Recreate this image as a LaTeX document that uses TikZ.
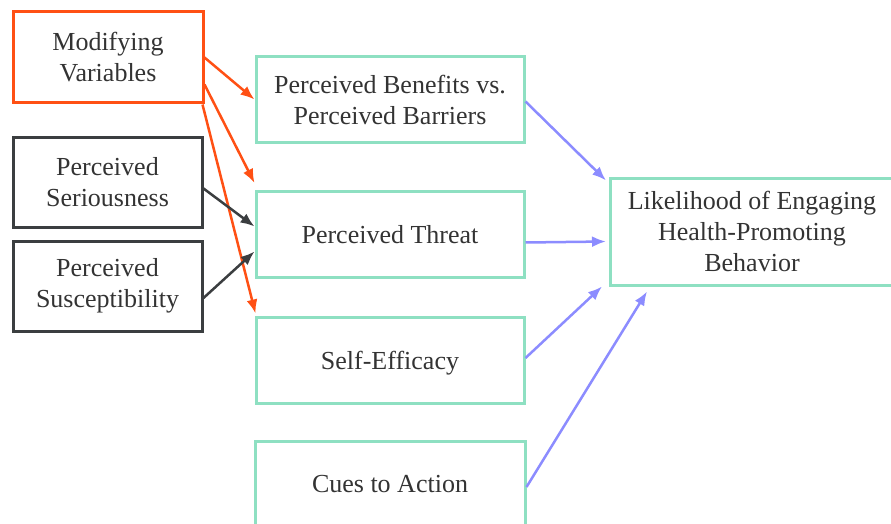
\documentclass[tikz,border=0pt]{standalone}
\usepackage{fontspec}
\setmainfont{Liberation Serif}
\usepackage{xcolor}
\usetikzlibrary{arrows.meta}
\usetikzlibrary{calc}
\usetikzlibrary{positioning}

\definecolor{modorange}{HTML}{FF5014}
\definecolor{mintline}{HTML}{8EE0C2}
\definecolor{darkline}{HTML}{3B3E40}
\definecolor{bluearrow}{HTML}{8C8CFF}
\definecolor{textgray}{HTML}{333333}

\tikzset{
    box/.style={draw, line width=3pt, align=center, text=textgray,
        font=\fontsize{26}{31}\selectfont, inner sep=0pt},
    modbox/.style={box, draw=modorange, minimum width=190pt, minimum height=91pt},
    perbox/.style={box, draw=darkline, minimum width=189pt, minimum height=90pt},
    hbmbox/.style={box, draw=mintline, minimum width=268pt, minimum height=86pt},
    modarrow/.style={draw=modorange, line width=2.5pt, -{Latex[length=14pt,width=11pt]}},
    perarrow/.style={draw=darkline, line width=2.5pt, -{Latex[length=14pt,width=11pt]}},
    outarrow/.style={draw=bluearrow, line width=2.5pt, -{Latex[length=14pt,width=11pt]}}
}

\begin{document}
\begin{tikzpicture}[x=1pt, y=-1pt]
        \useasboundingbox (0,0) rectangle (891,524);
        % Left column
        \node[modbox] (mod) at (108,57.5) {Modifying\\Variables};
        \node[perbox] (ser) at (107.5,182.5) {Perceived\\Seriousness};
        \node[perbox] (sus) at (107.5,286) {Perceived\\Susceptibility};
        % Middle column
        \node[hbmbox] (ben) at (390,99.5) {Perceived Benefits vs.\\Perceived Barriers};
        \node[hbmbox] (thr) at (390,234.5) {Perceived Threat};
        \node[hbmbox, text depth=-6pt] (eff) at (390,360) {Self-Efficacy};
        \node[hbmbox, minimum width=270pt] (cue) at (390,484) {Cues to Action};
        % Outcome
        \node[hbmbox, minimum width=283pt, minimum height=107pt] (lik) at (752,231.5)
            {Likelihood of Engaging\\Health-Promoting\\Behavior};
        % Modifying variables
        \draw[modarrow] (mod.east) -- (ben.west);
        \draw[modarrow] ([yshift=-27pt]mod.east) -- ([yshift=7pt]thr.north west);
        \draw[modarrow] ([xshift=-2pt]mod.south east) -- ([xshift=1pt,yshift=2pt]eff.north west);
        % Threat components
        \draw[perarrow] ([yshift=-6pt]ser.east) -- ([yshift=8pt]thr.west);
        \draw[perarrow] ([yshift=-12pt]sus.east) -- ([yshift=-17pt]thr.west);
        % Toward the behaviour
        \draw[outarrow] ([yshift=-2pt]ben.east) -- ([xshift=-3pt,yshift=-4pt]lik.north west);
        \draw[outarrow] ([yshift=-8pt]thr.east) -- ([xshift=-3pt,yshift=-10pt]lik.west);
        \draw[outarrow] ([yshift=2pt]eff.east) -- ([xshift=-7pt]lik.south west);
        \draw[outarrow] ([yshift=-3pt]cue.east) -- ([xshift=38pt,yshift=-5pt]lik.south west);
    \end{tikzpicture}
\end{document}
